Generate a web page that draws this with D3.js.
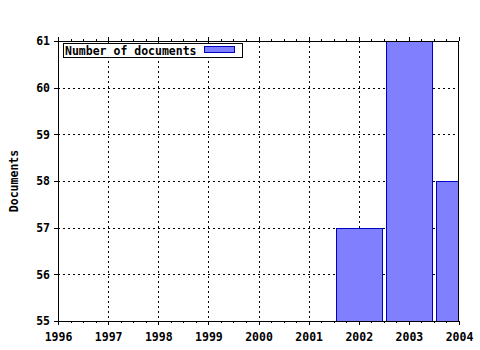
<!DOCTYPE html>
<html>
<head>
<meta charset="utf-8">
<script src="https://cdn.jsdelivr.net/npm/d3@7"></script>
<style>
  body { margin: 0; background: #fff; }
  text { font-family: "DejaVu Sans Mono", monospace; font-weight: bold; font-size: 11.5px; fill: #000; }
</style>
</head>
<body>
<svg class="chart" width="480" height="350"></svg>
<script>
// Data
const years = [2002, 2003, 2004];
const documents = [57, 61, 58];
const xTicks = [1996, 1997, 1998, 1999, 2000, 2001, 2002, 2003, 2004];
const yTicks = [55, 56, 57, 58, 59, 60, 61];
const seriesName = 'Number of documents';

// Plot area
const plotLeft = 58, plotRight = 459, plotTop = 41, plotBottom = 321;

const svg = d3.select('.chart');

const xScale = d3.scaleLinear().domain([1996, 2004]).range([plotLeft, plotRight]);
const yScale = d3.scaleLinear().domain([55, 61]).range([plotBottom, plotTop]);

// Grid
const grid = svg.append('g').attr('stroke', '#000').attr('stroke-dasharray', '2,3').attr('shape-rendering', 'crispEdges');
grid.selectAll('.gx').data(xTicks.slice(1, -1)).enter().append('line')
  .attr('x1', d => Math.round(xScale(d)) + 0.5).attr('x2', d => Math.round(xScale(d)) + 0.5)
  .attr('y1', plotTop).attr('y2', plotBottom);
grid.selectAll('.gy').data(yTicks.slice(1, -1)).enter().append('line')
  .attr('y1', d => Math.round(yScale(d)) + 0.5).attr('y2', d => Math.round(yScale(d)) + 0.5)
  .attr('x1', plotLeft).attr('x2', plotRight);

// Bars, clipped to the plot area
svg.append('clipPath').attr('id', 'plot')
  .append('rect').attr('x', plotLeft).attr('y', plotTop).attr('width', plotRight - plotLeft).attr('height', plotBottom - plotTop);

const half = 0.455;
svg.append('g').attr('clip-path', 'url(#plot)')
  .selectAll('rect').data(years).enter().append('rect')
  .attr('x', d => Math.round(xScale(d - half)) + 0.5)
  .attr('width', d => Math.round(xScale(d + half) - xScale(d - half)))
  .attr('y', (d, i) => Math.round(yScale(documents[i])) + 0.5)
  .attr('height', (d, i) => Math.round(plotBottom - yScale(documents[i])))
  .attr('fill', '#8080ff').attr('stroke', '#0000c0').attr('stroke-width', 1);

// Axes
const minor = d3.range(1996, 2004.001, 0.25);
const xAxis = d3.axisBottom(xScale).tickValues(xTicks).tickFormat(d3.format('d')).tickSize(4).tickPadding(6);
const xMinor = d3.axisBottom(xScale).tickValues(minor).tickFormat('').tickSize(2);
const xTop = d3.axisTop(xScale).tickValues(xTicks).tickFormat('').tickSize(4);
const xTopMinor = d3.axisTop(xScale).tickValues(minor).tickFormat('').tickSize(2);
const yAxis = d3.axisLeft(yScale).tickValues(yTicks).tickFormat(d3.format('d')).tickSize(4).tickPadding(4);

function styleAxis(g) {
  g.attr('font-family', null).attr('font-size', null);
  g.selectAll('path, line').attr('stroke', '#000').attr('shape-rendering', 'crispEdges');
  g.select('.domain').remove();
}

svg.append('g').attr('transform', `translate(0,${plotBottom})`).call(xMinor).call(styleAxis);
svg.append('g').attr('transform', `translate(0,${plotBottom})`).call(xAxis).call(styleAxis)
  .selectAll('text').attr('dy', '0.9em');
svg.append('g').attr('transform', `translate(0,${plotTop})`).call(xTopMinor).call(styleAxis);
svg.append('g').attr('transform', `translate(0,${plotTop})`).call(xTop).call(styleAxis);
svg.append('g').attr('transform', `translate(${plotLeft},0)`).call(yAxis).call(styleAxis);

// Frame
svg.append('rect').attr('x', plotLeft + 0.5).attr('y', plotTop + 0.5)
  .attr('width', plotRight - plotLeft - 1).attr('height', plotBottom - plotTop)
  .attr('fill', 'none').attr('stroke', '#000').attr('shape-rendering', 'crispEdges');

// Y axis title
svg.append('text').attr('transform', `translate(18,${(plotTop + plotBottom) / 2}) rotate(-90)`)
  .attr('text-anchor', 'middle').text('Documents');

// Legend
const legend = svg.append('g');
legend.append('rect').attr('x', 63.5).attr('y', 43.5).attr('width', 179).attr('height', 14)
  .attr('fill', '#fff').attr('stroke', '#000');
legend.append('text').attr('x', 65).attr('y', 54.5).text(seriesName);
legend.append('rect').attr('x', 204.5).attr('y', 46.5).attr('width', 30).attr('height', 6)
  .attr('fill', '#8080ff').attr('stroke', '#0000c0');
</script>
</body>
</html>
